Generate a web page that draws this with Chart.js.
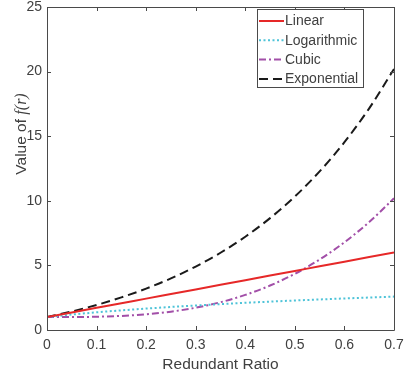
<!DOCTYPE html>
<html>
<head>
<meta charset="utf-8">
<script src="https://cdn.jsdelivr.net/npm/chart.js@4/dist/chart.umd.min.js"></script>
<style>
  html, body { margin: 0; padding: 0; background: #fff; }
  #wrap { width: 408px; height: 378px; }
</style>
</head>
<body>
<div id="wrap"><canvas id="ratioChart" width="408" height="378"></canvas></div>
<script>
// redundant ratio r and the four cost models f(r)
const ratios      = [0, 0.05, 0.1, 0.15, 0.2, 0.25, 0.3, 0.35, 0.4, 0.45, 0.5, 0.55, 0.6, 0.65, 0.7];
const linearVals  = [1, 1.357, 1.714, 2.071, 2.429, 2.786, 3.143, 3.5, 3.857, 4.214, 4.571, 4.929, 5.286, 5.643, 6.0];
const logVals     = [1, 1.196, 1.367, 1.520, 1.658, 1.783, 1.899, 2.005, 2.104, 2.196, 2.283, 2.364, 2.441, 2.515, 2.584];
const cubicVals   = [1, 1.003, 1.027, 1.090, 1.214, 1.419, 1.724, 2.149, 2.715, 3.442, 4.35, 5.459, 6.789, 8.360, 10.192];
const expVals     = [1, 1.434, 1.938, 2.523, 3.203, 3.994, 4.912, 5.979, 7.218, 8.658, 10.331, 12.275, 14.533, 17.157, 20.205];

const xTickValues = [0, 0.1, 0.2, 0.3, 0.4, 0.5, 0.6, 0.7];
const yTickValues = [0, 5, 10, 15, 20, 25];

const TEXT = '#404040';
const AXIS = '#4a4a4a';
const FONT = 'Arial, "Liberation Sans", Helvetica, sans-serif';

function pts(ys) {
    return ratios.map((r, i) => ({ x: r, y: ys[i] }));
}

// matlab style box with inward ticks on all four sides
const boxAxes = {
    id: 'boxAxes',
    afterDatasetsDraw(chart) {
        const { ctx, chartArea: a, scales } = chart;
        const tl = 4;
        ctx.save();
        ctx.strokeStyle = AXIS;
        ctx.lineWidth = 1;
        ctx.beginPath();
        ctx.rect(Math.round(a.left) + 0.5, Math.round(a.top) + 0.5,
                 Math.round(a.right - a.left), Math.round(a.bottom - a.top));
        xTickValues.forEach(v => {
            const px = Math.round(scales.x.getPixelForValue(v)) + 0.5;
            ctx.moveTo(px, a.bottom); ctx.lineTo(px, a.bottom - tl);
            ctx.moveTo(px, a.top); ctx.lineTo(px, a.top + tl);
        });
        yTickValues.forEach(v => {
            const py = Math.round(scales.y.getPixelForValue(v)) + 0.5;
            ctx.moveTo(a.left, py); ctx.lineTo(a.left + tl, py);
            ctx.moveTo(a.right, py); ctx.lineTo(a.right - tl, py);
        });
        ctx.stroke();
        ctx.restore();
    }
};

// axis titles, y title has an italic f(r)
const axisTitles = {
    id: 'axisTitles',
    afterDraw(chart) {
        const { ctx, chartArea: a } = chart;
        ctx.save();
        ctx.fillStyle = TEXT;
        ctx.textBaseline = 'middle';

        ctx.font = '15.5px ' + FONT;
        ctx.textAlign = 'center';
        ctx.fillText('Redundant Ratio', (a.left + a.right) / 2, a.bottom + 35);

        const plain = 'Value of ';
        const ital = 'f(r)';
        const plainFont = '15.5px ' + FONT;
        const italFont = 'italic 16px "Liberation Serif", "Times New Roman", serif';
        ctx.font = plainFont;
        const w1 = ctx.measureText(plain).width;
        ctx.font = italFont;
        const w2 = ctx.measureText(ital).width;
        ctx.translate(22, 134);
        ctx.rotate(-Math.PI / 2);
        ctx.textAlign = 'left';
        ctx.font = plainFont;
        ctx.fillText(plain, -(w1 + w2) / 2, 0);
        ctx.font = italFont;
        ctx.fillText(ital, -(w1 + w2) / 2 + w1, 0);
        ctx.restore();
    }
};

// boxed legend in the upper right corner of the plot
const boxLegend = {
    id: 'boxLegend',
    afterDraw(chart) {
        const { ctx, chartArea: a } = chart;
        const right = a.right - 31, top = a.top + 2;
        const w = 106, h = 78, left = right - w;
        ctx.save();
        ctx.fillStyle = '#fff';
        ctx.fillRect(left, top, w, h);
        ctx.strokeStyle = AXIS;
        ctx.lineWidth = 1;
        ctx.strokeRect(left + 0.5, top + 0.5, w, h);
        ctx.font = '14px ' + FONT;
        ctx.textBaseline = 'middle';
        ctx.textAlign = 'left';
        chart.data.datasets.forEach((ds, i) => {
            const y = top + 12 + i * 19.3;
            ctx.strokeStyle = ds.borderColor;
            ctx.lineWidth = ds.borderWidth;
            ctx.setLineDash(ds.borderDash || []);
            ctx.beginPath();
            ctx.moveTo(left + 2, y);
            ctx.lineTo(left + 27, y);
            ctx.stroke();
            ctx.setLineDash([]);
            ctx.fillStyle = TEXT;
            ctx.fillText(ds.label, left + 28, y + 0.5);
        });
        ctx.restore();
    }
};

const ctx = document.getElementById('ratioChart').getContext('2d');
new Chart(ctx, {
    type: 'line',
    data: {
        datasets: [
            { label: 'Linear', data: pts(linearVals), borderColor: '#e62828', borderWidth: 2 },
            { label: 'Logarithmic', data: pts(logVals), borderColor: '#4ec3d8', borderWidth: 2, borderDash: [2, 2.5] },
            { label: 'Cubic', data: pts(cubicVals), borderColor: '#a24fa8', borderWidth: 2, borderDash: [7, 3, 2, 3] },
            { label: 'Exponential', data: pts(expVals), borderColor: '#1a1a1a', borderWidth: 2, borderDash: [9, 5] }
        ]
    },
    options: {
        responsive: false,
        animation: false,
        events: [],
        layout: { padding: { left: 0, right: 14, top: 7, bottom: 0 } },
        elements: {
            point: { radius: 0 },
            line: { cubicInterpolationMode: 'monotone', fill: false }
        },
        scales: {
            x: {
                type: 'linear',
                min: 0,
                max: 0.7,
                afterBuildTicks: s => { s.ticks = xTickValues.map(v => ({ value: v })); },
                afterFit: s => { s.height = 48; s.paddingLeft = 0; s.paddingRight = 0; },
                grid: { display: false, drawTicks: false },
                border: { display: false },
                ticks: {
                    autoSkip: false,
                    maxRotation: 0,
                    padding: 7,
                    color: TEXT,
                    font: { family: FONT, size: 14 },
                    callback: v => String(Math.round(v * 10) / 10)
                }
            },
            y: {
                type: 'linear',
                min: 0,
                max: 25,
                afterBuildTicks: s => { s.ticks = yTickValues.map(v => ({ value: v })); },
                afterFit: s => { s.width = 47; s.paddingTop = 0; s.paddingBottom = 0; },
                grid: { display: false, drawTicks: false },
                border: { display: false },
                ticks: {
                    padding: 5,
                    color: TEXT,
                    font: { family: FONT, size: 14 }
                }
            }
        },
        plugins: {
            legend: { display: false },
            tooltip: { enabled: false }
        }
    },
    plugins: [boxAxes, axisTitles, boxLegend]
});
</script>
</body>
</html>
